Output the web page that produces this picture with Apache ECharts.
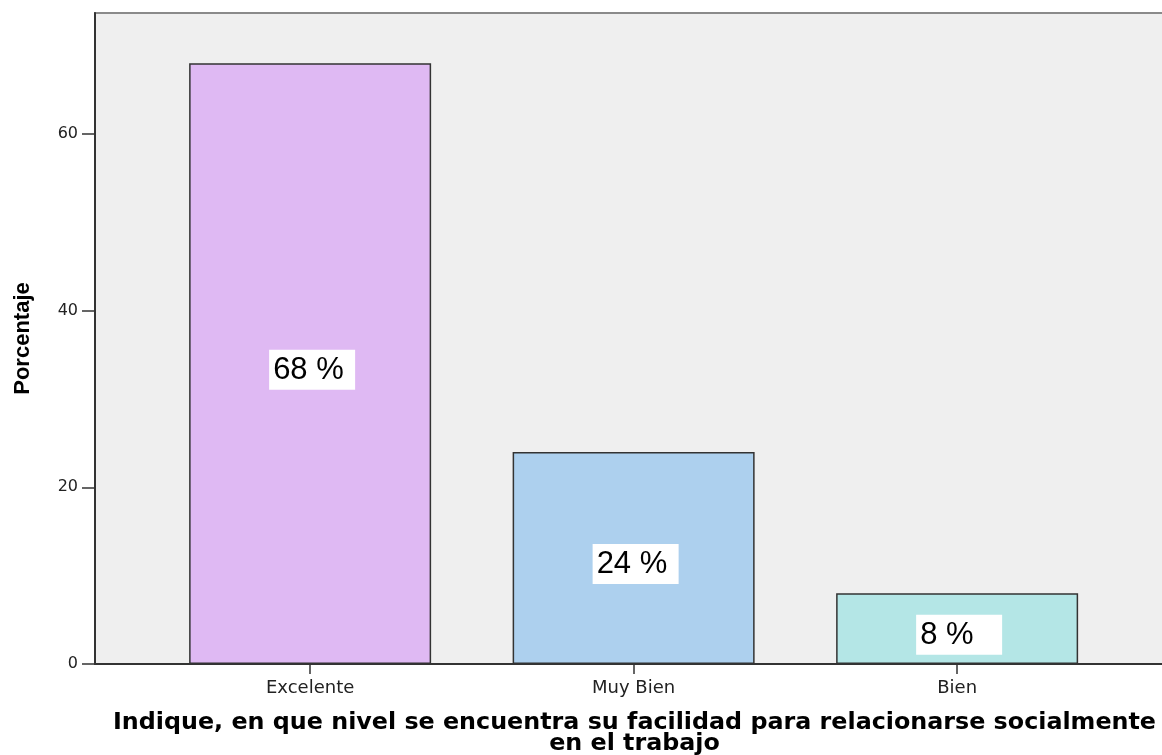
<!DOCTYPE html>
<html>
<head>
<meta charset="utf-8">
<script src="https://cdn.jsdelivr.net/npm/echarts@6/dist/echarts.min.js"></script>
<style>
  html, body { margin: 0; padding: 0; background: #ffffff; }
  #chart { width: 1162px; height: 755px; }
</style>
</head>
<body>
<div id="chart"></div>
<script>
const categories = ['Excelente', 'Muy Bien', 'Bien'];
const percentages = [68, 24, 8];
const barColors = ['#DFB9F3', '#ADD0EE', '#B4E6E6'];
const yTicks = [0, 20, 40, 60];

const xTitle = 'Indique, en que nivel se encuentra su facilidad para relacionarse socialmente\nen el trabajo';

const chartInstance = echarts.init(document.getElementById('chart'), null, { renderer: 'canvas' });

// bars sit at x = 1, 2, 3 on a value axis so the plot can run past the right edge like the original
const barData = percentages.map((v, i) => ({
  value: [i + 1, v],
  itemStyle: { color: barColors[i] }
}));

chartInstance.setOption({
  animation: false,
  grid: {
    left: 95,
    top: 13,
    bottom: 91,
    width: 1089,
    outerBoundsMode: 'none',
    containLabel: false,
    show: true,
    backgroundColor: '#EFEFEF',
    borderColor: '#8A8A8A',
    borderWidth: 2
  },
  xAxis: {
    type: 'value',
    min: 0.335,
    max: 3.7013,
    splitLine: { show: false },
    axisLine: { show: true, onZero: false, lineStyle: { color: '#333333', width: 2 } },
    axisTick: {
      show: true,
      customValues: [1, 2, 3],
      length: 10,
      lineStyle: { color: '#333333', width: 1.5 }
    },
    axisLabel: {
      customValues: [1, 2, 3],
      formatter: v => categories[Math.round(v) - 1] || '',
      margin: 15,
      color: '#222222',
      fontFamily: 'DejaVu Sans',
      fontSize: 18
    },
    name: xTitle,
    nameLocation: 'middle',
    nameGap: 48,
    nameTextStyle: {
      color: '#000000',
      fontFamily: 'DejaVu Sans',
      fontWeight: 'bold',
      fontSize: 23.8,
      lineHeight: 21,
      align: 'center',
      padding: [0, 10, 0, 0]
    }
  },
  yAxis: {
    type: 'value',
    min: 0,
    max: 73.7,
    interval: 20,
    splitLine: { show: false },
    axisLine: { show: true, lineStyle: { color: '#333333', width: 2 } },
    axisTick: { show: true, customValues: yTicks, length: 13, lineStyle: { color: '#333333', width: 1.5 } },
    axisLabel: {
      customValues: yTicks,
      margin: 17,
      color: '#222222',
      fontFamily: 'DejaVu Sans',
      fontSize: 16
    },
    name: 'Porcentaje',
    nameLocation: 'middle',
    nameGap: 61,
    nameTextStyle: {
      color: '#000000',
      fontFamily: 'Liberation Sans',
      fontWeight: 'bold',
      fontSize: 22
    }
  },
  series: [
    {
      type: 'bar',
      barWidth: 242,
      data: barData,
      itemStyle: { borderColor: '#333333', borderWidth: 1.5 },
      label: {
        show: true,
        position: 'inside',
        offset: [2, 6],
        formatter: p => '{t|' + p.value[1] + ' %}',
        backgroundColor: '#FFFFFF',
        padding: [5, 9, 4, 4],
        rich: {
          t: {
            width: 73,
            align: 'left',
            color: '#000000',
            fontFamily: 'Liberation Sans',
            fontSize: 31
          }
        }
      }
    }
  ]
});
</script>
</body>
</html>
